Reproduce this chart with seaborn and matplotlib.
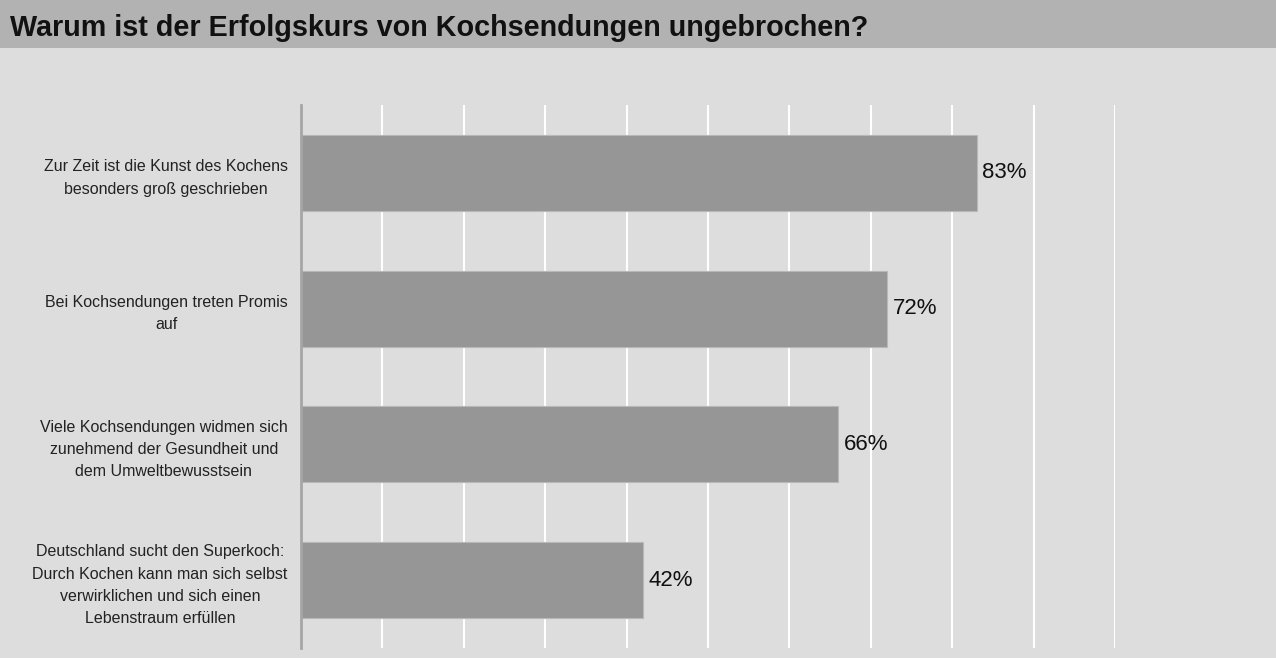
import pandas as pd
import seaborn as sns
import matplotlib.pyplot as plt
from matplotlib.patches import Rectangle

# data
categories = [
    "Zur Zeit ist die Kunst des Kochens\nbesonders groß geschrieben",
    "Bei Kochsendungen treten Promis\nauf",
    "Viele Kochsendungen widmen sich\nzunehmend der Gesundheit und\ndem Umweltbewusstsein",
    "Deutschland sucht den Superkoch:\nDurch Kochen kann man sich selbst\nverwirklichen und sich einen\nLebenstraum erfüllen",
]
values = [83, 72, 66, 42]
title = "Warum ist der Erfolgskurs von Kochsendungen ungebrochen?"

df = pd.DataFrame({"frage": categories, "anteil": values})

sns.set_theme(style="white")
plt.rcParams['font.family'] = ['Liberation Sans', 'DejaVu Sans']

bg = "#dddddd"
fig = plt.figure(figsize=(12.76, 6.58), dpi=100, facecolor=bg)

# grey title band
fig.patches.append(Rectangle((0, 1 - 48 / 658), 1, 48 / 658, transform=fig.transFigure,
                             facecolor="#b2b2b2", edgecolor="none", zorder=0))
fig.text(10 / 1276, 1 - 28 / 658, title, fontsize=20.7, fontweight="bold",
         color="#111111", va="center", ha="left")

ax = fig.add_axes([301 / 1276, 1 - 648 / 658, (1115 - 301) / 1276, (648 - 105) / 658])
ax.set_facecolor(bg)

sns.barplot(data=df, x="anteil", y="frage", orient="h", color="#969696",
            saturation=1, width=0.56, edgecolor="#b8b8b8", linewidth=0.8, ax=ax)

ax.set_xlim(0, 100)
ax.set_ylim(3.5, -0.5)
ax.set_xticks(range(10, 101, 10))
ax.xaxis.grid(True, color="white", linewidth=1.5)
ax.set_axisbelow(True)
ax.tick_params(axis="x", bottom=False, labelbottom=False)
ax.tick_params(axis="y", length=0, pad=9.5)
ax.set_xlabel("")
ax.set_ylabel("")

for lbl in ax.get_yticklabels():
    lbl.set_fontsize(11.5)
    lbl.set_color("#222222")
    lbl.set_multialignment("center")
    lbl.set_linespacing(1.6)

for s in ["top", "right", "bottom"]:
    ax.spines[s].set_visible(False)
ax.spines["left"].set_color("#a6a6a6")
ax.spines["left"].set_linewidth(2)

for i, v in enumerate(values):
    ax.text(v + 0.7, i, f"{v}%", va="center", ha="left", fontsize=16, color="#111111")

fig.savefig("out.png", dpi=100, facecolor=bg)
